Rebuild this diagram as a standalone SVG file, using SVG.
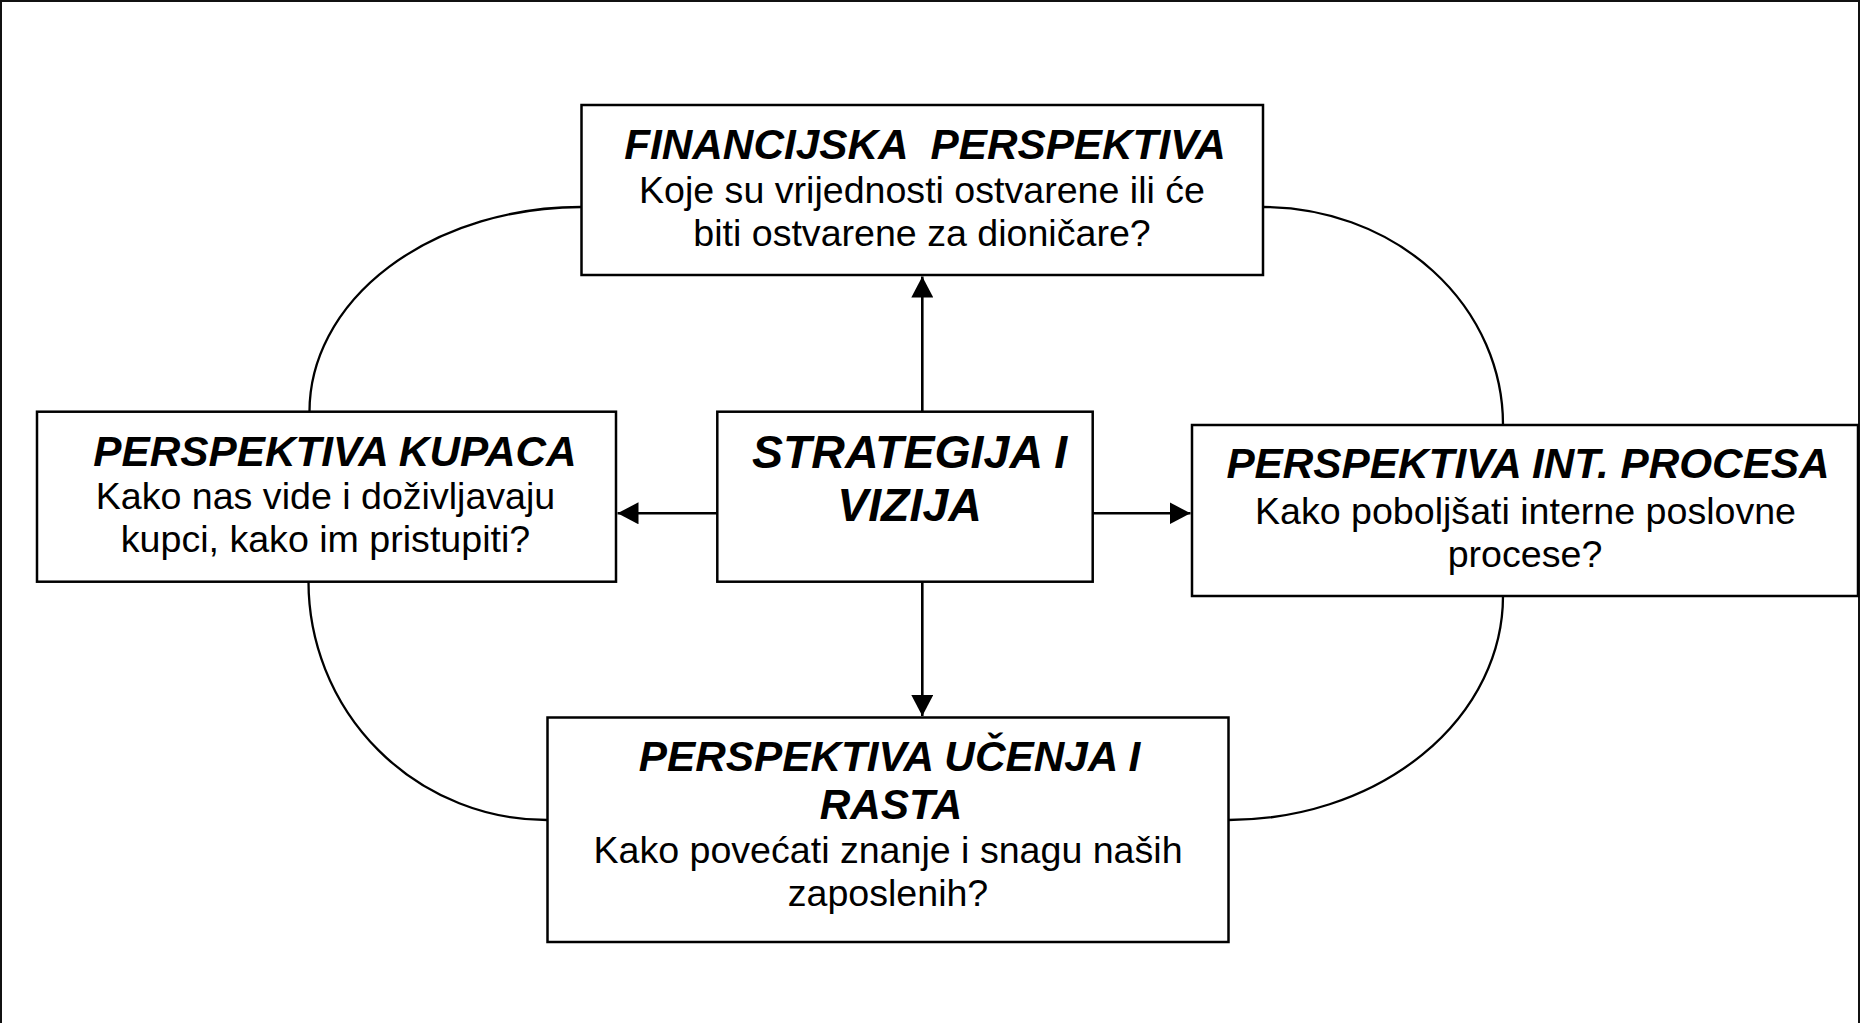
<svg xmlns="http://www.w3.org/2000/svg" width="1865" height="1023" viewBox="0 0 1865 1023">
<defs>
<marker id="arr" viewBox="0 0 21 22" refX="21" refY="11" markerWidth="21" markerHeight="22" markerUnits="userSpaceOnUse" orient="auto"><path d="M0,0 L21,11 L0,22 Z" fill="#000"/></marker>
</defs>
<style>
.box{fill:#fff;stroke:#000;stroke-width:2.5}
.t{font-family:"Liberation Sans",Arial,sans-serif;font-weight:bold;font-style:italic;font-size:42.3px;text-anchor:middle;fill:#000}
.s{font-size:46.5px}
.b{font-family:"Liberation Sans",Arial,sans-serif;font-size:37.6px;text-anchor:middle;fill:#000}
.c{fill:none;stroke:#000;stroke-width:2.3}
.a{fill:none;stroke:#000;stroke-width:2.6;marker-end:url(#arr)}
</style>
<rect x="0" y="0" width="1865" height="1023" fill="#fff"/>
<rect x="1" y="1" width="1858" height="1100" fill="none" stroke="#111" stroke-width="2"/>
<g id="connectors">
<path class="c" d="M581,207 A271.5,204.5 0 0 0 309.5,411.5"/>
<path class="c" d="M1263,207 A240,217.6 0 0 1 1503,424.6"/>
<path class="c" d="M1503,596 A274.4,224 0 0 1 1228.6,820"/>
<path class="c" d="M308.5,581.6 A238.5,238.4 0 0 0 547,820"/>
<line class="a" x1="922.3" y1="411.7" x2="922.3" y2="276.5"/>
<line class="a" x1="922.3" y1="581.7" x2="922.3" y2="716"/>
<line class="a" x1="717.3" y1="513.3" x2="617.5" y2="513.3"/>
<line class="a" x1="1092.7" y1="513.3" x2="1190.5" y2="513.3"/>
</g>
<g id="fin">
<rect class="box" x="581.5" y="105" width="681.5" height="170"/>
<text class="t" x="925" y="159" xml:space="preserve">FINANCIJSKA  PERSPEKTIVA</text>
<text class="b" x="922" y="203">Koje su vrijednosti ostvarene ili će</text>
<text class="b" x="922" y="246">biti ostvarene za dioničare?</text>
</g>
<g id="kupaca">
<rect class="box" x="37" y="411.7" width="579" height="170"/>
<text class="t" x="335" y="465.5">PERSPEKTIVA KUPACA</text>
<text class="b" x="325.5" y="509">Kako nas vide i doživljavaju</text>
<text class="b" x="325.5" y="552">kupci, kako im pristupiti?</text>
</g>
<g id="strategija">
<rect class="box" x="717.3" y="411.7" width="375.4" height="170"/>
<text class="t s" x="909.5" y="468.3">STRATEGIJA I</text>
<text class="t s" x="909.5" y="520.7">VIZIJA</text>
</g>
<g id="procesi">
<rect class="box" x="1192" y="425" width="666" height="171"/>
<text class="t" x="1528" y="478">PERSPEKTIVA INT. PROCESA</text>
<text class="b" x="1525.5" y="523.5">Kako poboljšati interne poslovne</text>
<text class="b" x="1525" y="567">procese?</text>
</g>
<g id="ucenje">
<rect class="box" x="547.5" y="717.5" width="681" height="224.5"/>
<text class="t" x="889.5" y="771">PERSPEKTIVA UČENJA I</text>
<text class="t" x="891" y="819">RASTA</text>
<text class="b" x="888" y="863">Kako povećati znanje i snagu naših</text>
<text class="b" x="888" y="906">zaposlenih?</text>
</g>
</svg>
